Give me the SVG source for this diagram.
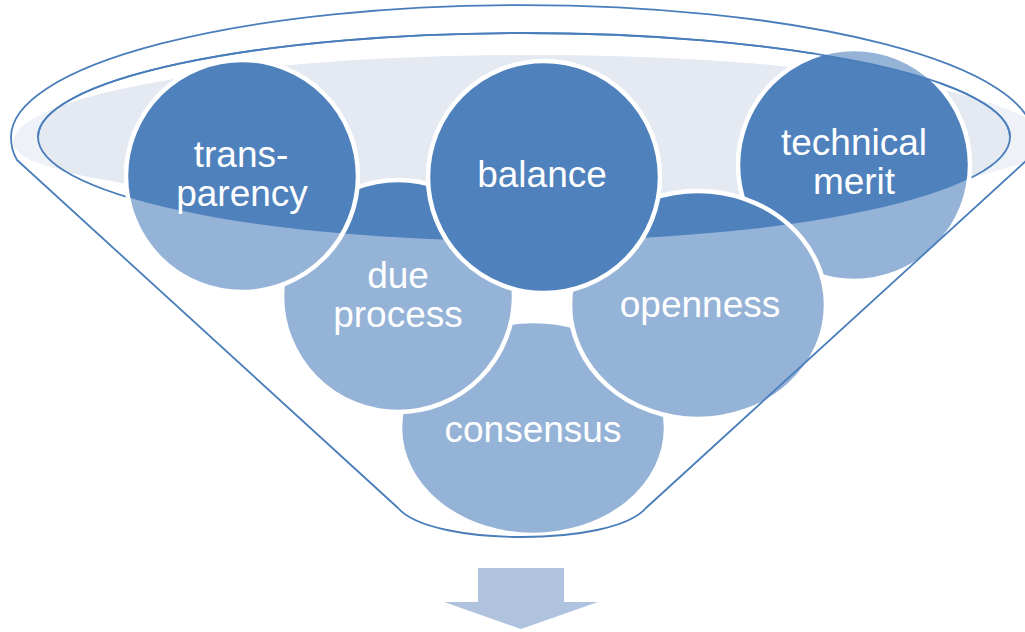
<svg xmlns="http://www.w3.org/2000/svg" width="1025" height="632" viewBox="0 0 1025 632">
<style>
.light{fill:#95B3D7}
.dark{fill:#4F81BD}
.ring{fill:none;stroke:#FFFFFF;stroke-width:4.5}
.line{fill:none;stroke:#4A7EBB;stroke-width:1.8}
.lbl{font-family:"Liberation Sans",Arial,sans-serif;font-size:37px;fill:#FFFFFF;text-anchor:middle}
</style>
<defs>
<clipPath id="inner"><ellipse cx="524" cy="137" rx="486" ry="104"/></clipPath>
<path id="grayShape" d="M13,143 A517,88 0 0 1 1047,143 A517,65 0 0 1 13,143 Z"/>
</defs>
<rect width="1025" height="632" fill="#FFFFFF"/>
<g id="funnel-back">
<use href="#grayShape" fill="#EEF1F7"/>
<use href="#grayShape" fill="#E4E9F2" clip-path="url(#inner)"/>
<ellipse class="line" cx="524" cy="137" rx="486" ry="104"/>
</g>
<g id="consensus">
<ellipse class="light" cx="533" cy="428" rx="133" ry="107"/>
<ellipse class="ring" cx="533" cy="428" rx="133" ry="107"/>
<text class="lbl" x="533" y="442">consensus</text>
</g>
<g id="technical-merit">
<circle class="light" cx="854" cy="165" r="116"/>
<circle class="dark" cx="854" cy="165" r="116" clip-path="url(#inner)"/>
<circle class="ring" cx="854" cy="165" r="116"/>
<text class="lbl" x="854" y="155">technical</text>
<text class="lbl" x="854" y="194">merit</text>
</g>
<g id="due-process">
<circle class="light" cx="398" cy="296" r="116"/>
<circle class="dark" cx="398" cy="296" r="116" clip-path="url(#inner)"/>
<circle class="ring" cx="398" cy="296" r="116"/>
<text class="lbl" x="398" y="288">due</text>
<text class="lbl" x="398" y="327">process</text>
</g>
<g id="openness">
<ellipse class="light" cx="698" cy="305" rx="128" ry="114"/>
<ellipse class="dark" cx="698" cy="305" rx="128" ry="114" clip-path="url(#inner)"/>
<ellipse class="ring" cx="698" cy="305" rx="128" ry="114"/>
<text class="lbl" x="700" y="317">openness</text>
</g>
<g id="transparency">
<circle class="light" cx="242" cy="176" r="116"/>
<circle class="dark" cx="242" cy="176" r="116" clip-path="url(#inner)"/>
<circle class="ring" cx="242" cy="176" r="116"/>
<text class="lbl" x="241" y="167">trans-</text>
<text class="lbl" x="242" y="206">parency</text>
</g>
<g id="balance">
<circle class="dark" cx="544" cy="177" r="116"/>
<circle class="ring" cx="544" cy="177" r="116"/>
<text class="lbl" x="542" y="187">balance</text>
</g>
<g id="connectors">
<path class="line" d="M38,137 A486,104 0 0 1 1010,137"/>
<path class="line" d="M17,160 L398,508 C415,528 470,537 522,537 C574,537 629,528 646,508 L1027,160 Q1033,150 1033,137 A511,132 0 0 0 11,137 Q11,150 17,160 Z"/>
<polygon points="478,568 564,568 564,602 598,602 521,629 444,602 478,602" fill="#B0C3DE"/>
</g>
</svg>
